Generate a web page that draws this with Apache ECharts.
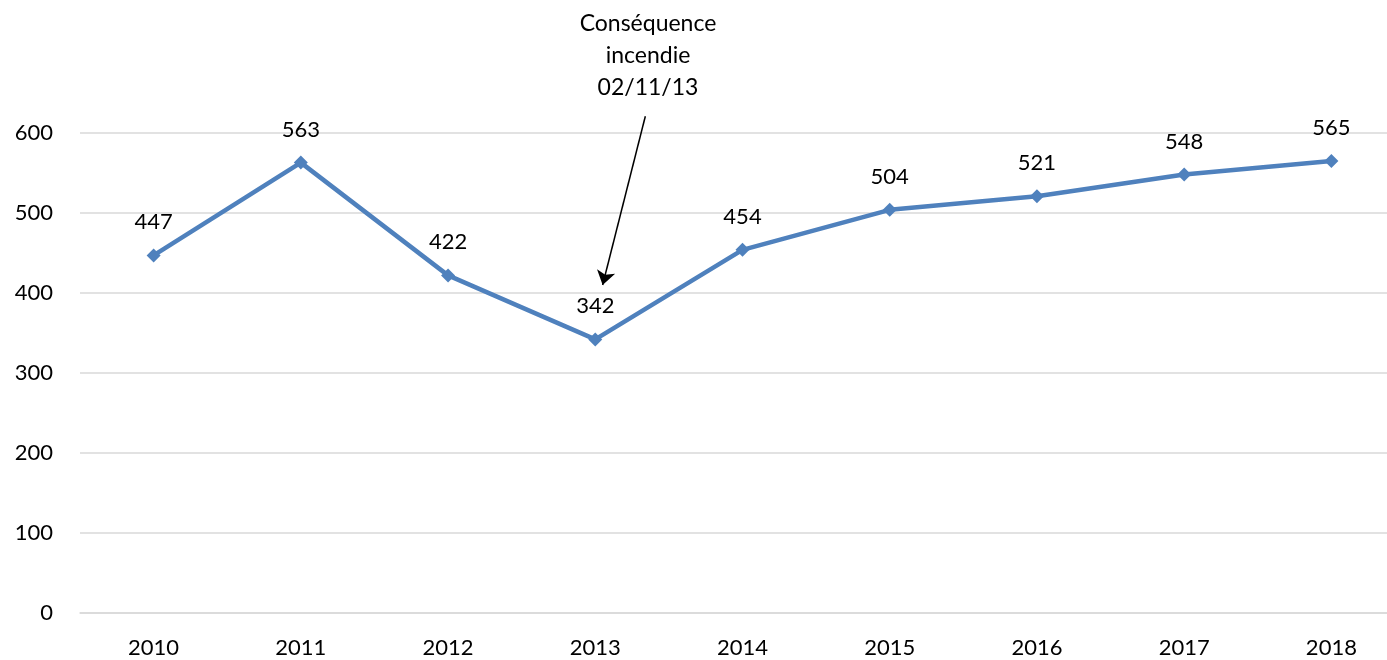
<!DOCTYPE html>
<html>
<head>
<meta charset="utf-8">
<script src="https://cdn.jsdelivr.net/npm/echarts@6/dist/echarts.min.js"></script>
<style>
  html, body { margin: 0; padding: 0; background: #fff; overflow: hidden; }
  /* the original plot runs past the right edge of the picture */
  #main { width: 1405px; height: 660px; }
</style>
</head>
<body>
<div id="main"></div>
<script>
// data
var years = ['2010', '2011', '2012', '2013', '2014', '2015', '2016', '2017', '2018'];
var values = [447, 563, 422, 342, 454, 504, 521, 548, 565];
// arrow annotation, in [category position, value]
var arrowFrom = [3.34, 621];
var arrowTo = [3.05, 410];
var noteText = 'Conséquence\nincendie\n02/11/13';

var font = 'Lato, "Open Sans", sans-serif';
var myChart = echarts.init(document.getElementById('main'));

var option = {
  animation: false,
  backgroundColor: '#fff',
  textStyle: { fontFamily: font },
  grid: [
    { left: 80, right: 0, top: 133, bottom: 47 },
    // overlay grid with the same scale, taller, for the annotation arrow
    { left: 80, right: 0, top: 0, bottom: 47 }
  ],
  xAxis: [
    {
      type: 'category',
      data: years,
      boundaryGap: true,
      axisLine: { lineStyle: { color: '#d9d9d9', width: 1.5 } },
      axisTick: { show: false },
      axisLabel: { color: '#000', fontSize: 22, margin: 24, fontFamily: font }
    },
    {
      type: 'value',
      gridIndex: 1,
      min: -0.5,
      max: 8.5,
      show: false
    }
  ],
  yAxis: [
    {
      type: 'value',
      min: 0,
      max: 600,
      interval: 100,
      axisLine: { show: false },
      axisTick: { show: false },
      axisLabel: { color: '#000', fontSize: 22, margin: 27, fontFamily: font },
      splitLine: { lineStyle: { color: '#d9d9d9', width: 1.5 } }
    },
    {
      // 613px tall at 0.8px per unit, same as the main axis
      type: 'value',
      gridIndex: 1,
      min: 0,
      max: 766.25,
      show: false
    }
  ],
  graphic: [
    {
      type: 'text',
      x: 648,
      y: 8,
      silent: true,
      style: {
        text: noteText,
        fill: '#000',
        font: '23px ' + font,
        align: 'center',
        textAlign: 'center',
        lineHeight: 32
      }
    }
  ],
  series: [
    {
      name: 'values',
      type: 'line',
      data: values,
      symbol: 'diamond',
      symbolSize: 14,
      lineStyle: { color: '#4f81bd', width: 4.5 },
      itemStyle: { color: '#4f81bd' },
      label: {
        show: true,
        position: 'top',
        distance: 15,
        color: '#000',
        fontSize: 22,
        fontFamily: font
      }
    },
    {
      name: 'note',
      type: 'line',
      xAxisIndex: 1,
      yAxisIndex: 1,
      data: [arrowTo],
      showSymbol: false,
      lineStyle: { width: 0 },
      silent: true,
      markLine: {
        silent: true,
        symbol: ['none', 'arrow'],
        symbolSize: 14,
        label: { show: false },
        itemStyle: { color: '#000' },
        lineStyle: { color: '#000', width: 1.5, type: 'solid', opacity: 1 },
        data: [[{ coord: arrowFrom }, { coord: arrowTo }]]
      }
    }
  ]
};
myChart.setOption(option);
</script>
</body>
</html>
